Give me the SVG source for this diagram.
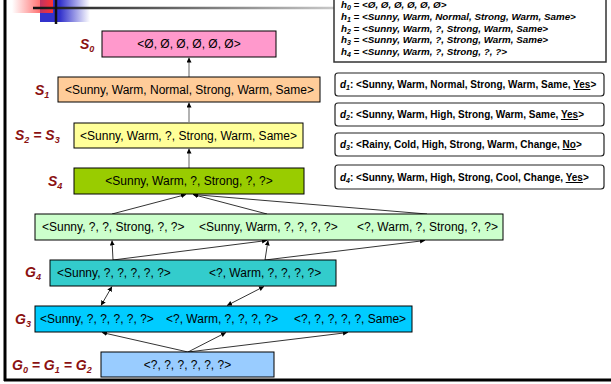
<svg xmlns="http://www.w3.org/2000/svg" width="611" height="384" viewBox="0 0 611 384">
  <defs>
    <linearGradient id="redFade" x1="0" y1="0" x2="1" y2="0">
      <stop offset="0" stop-color="#ff3333" stop-opacity="0"/>
      <stop offset="1" stop-color="#ff3333" stop-opacity="1"/>
    </linearGradient>
    <linearGradient id="blueFade" x1="0" y1="0" x2="1" y2="0">
      <stop offset="0" stop-color="#3333cc"/>
      <stop offset="0.4" stop-color="#3333cc"/>
      <stop offset="1" stop-color="#3333cc" stop-opacity="0"/>
    </linearGradient>
    <linearGradient id="ruleFade" x1="33" y1="0" x2="334" y2="0" gradientUnits="userSpaceOnUse">
      <stop offset="0" stop-color="#111"/>
      <stop offset="1" stop-color="#c8c8c8"/>
    </linearGradient>
    <marker id="tip" viewBox="0 0 10 10" refX="10" refY="5" markerWidth="5" markerHeight="5" markerUnits="userSpaceOnUse" orient="auto-start-reverse">
      <path d="M0,0 L10,5 L0,10 z" fill="#000"/>
    </marker>
  </defs>
  <style>
    .box { stroke: #000; stroke-width: 1; }
    .t { font-family: "Liberation Sans", Arial, sans-serif; font-size: 12px; fill: #000; }
    .lbl { font-family: "Liberation Sans", Arial, sans-serif; font-size: 14px; font-weight: bold; font-style: italic; fill: #8b1111; }
    .sub { font-size: 9px; }
    .h { font-family: "Liberation Sans", Arial, sans-serif; font-size: 9.8px; font-weight: bold; font-style: italic; fill: #000; }
    .h .sub { font-size: 7px; }
    .d { font-family: "Liberation Sans", Arial, sans-serif; font-size: 10px; font-weight: bold; fill: #000; }
    .d .sub { font-size: 7px; }
    .dbox { fill: #fff; stroke: #222; stroke-width: 1.2; }
    .gray { stroke: #999; stroke-width: 1.5; fill: none; }
    .thin { stroke: #000; stroke-width: 0.8; fill: none; }
  </style>

  <!-- corner ornament and frame -->
  <rect x="40" y="0" width="50" height="22" fill="url(#blueFade)"/>
  <rect x="12" y="0" width="41" height="13" fill="url(#redFade)"/>
  <line x1="33" y1="8" x2="334" y2="8" stroke="url(#ruleFade)" stroke-width="2.5"/>
  <line x1="56" y1="0" x2="56" y2="24" stroke="#111" stroke-width="2.5"/>
  <line x1="5" y1="0" x2="5" y2="381" stroke="#000" stroke-width="3"/>
  <line x1="4" y1="380" x2="611" y2="380" stroke="#000" stroke-width="3"/>

  <!-- hypothesis trace -->
  <g id="trace">
    <rect x="334" y="-5" width="272" height="67" fill="#fff" stroke="#333" stroke-width="1.5"/>
    <text class="h" x="341" y="8">h<tspan class="sub" dy="2">0</tspan><tspan dy="-2"> = &lt;Ø, Ø, Ø, Ø, Ø, Ø&gt;</tspan></text>
    <text class="h" x="341" y="20">h<tspan class="sub" dy="2">1</tspan><tspan dy="-2"> = &lt;Sunny, Warm, Normal, Strong, Warm, Same&gt;</tspan></text>
    <text class="h" x="341" y="31.5">h<tspan class="sub" dy="2">2</tspan><tspan dy="-2"> = &lt;Sunny, Warm, ?, Strong, Warm, Same&gt;</tspan></text>
    <text class="h" x="341" y="43">h<tspan class="sub" dy="2">3</tspan><tspan dy="-2"> = &lt;Sunny, Warm, ?, Strong, Warm, Same&gt;</tspan></text>
    <text class="h" x="341" y="54.5">h<tspan class="sub" dy="2">4</tspan><tspan dy="-2"> = &lt;Sunny, Warm, ?, Strong, ?, ?&gt;</tspan></text>
  </g>

  <!-- training examples -->
  <g id="d1">
    <rect class="dbox" x="335" y="73" width="269" height="23" rx="3"/>
    <text class="d" x="340" y="88"><tspan font-style="italic">d</tspan><tspan class="sub" font-style="italic" dy="2">1</tspan><tspan dy="-2">: &lt;Sunny, Warm, Normal, Strong, Warm, Same, </tspan><tspan text-decoration="underline">Yes</tspan>&gt;</text>
  </g>
  <g id="d2">
    <rect class="dbox" x="335" y="103" width="269" height="23" rx="3"/>
    <text class="d" x="340" y="118"><tspan font-style="italic">d</tspan><tspan class="sub" font-style="italic" dy="2">2</tspan><tspan dy="-2">: &lt;Sunny, Warm, High, Strong, Warm, Same, </tspan><tspan text-decoration="underline">Yes</tspan>&gt;</text>
  </g>
  <g id="d3">
    <rect class="dbox" x="335" y="133" width="269" height="23" rx="3"/>
    <text class="d" x="340" y="148"><tspan font-style="italic">d</tspan><tspan class="sub" font-style="italic" dy="2">3</tspan><tspan dy="-2">: &lt;Rainy, Cold, High, Strong, Warm, Change, </tspan><tspan text-decoration="underline">No</tspan>&gt;</text>
  </g>
  <g id="d4">
    <rect class="dbox" x="335" y="165" width="269" height="24" rx="3"/>
    <text class="d" x="340" y="181"><tspan font-style="italic">d</tspan><tspan class="sub" font-style="italic" dy="2">4</tspan><tspan dy="-2">: &lt;Sunny, Warm, High, Strong, Cool, Change, </tspan><tspan text-decoration="underline">Yes</tspan>&gt;</text>
  </g>

  <!-- connectors -->
  <g id="connectors">
    <line class="gray" x1="189" y1="77" x2="189" y2="57.5" marker-end="url(#tip)"/>
    <line class="gray" x1="189" y1="122" x2="189" y2="102.5" marker-end="url(#tip)"/>
    <line class="gray" x1="189" y1="168" x2="189" y2="148.5" marker-end="url(#tip)"/>

    <line class="thin" x1="112" y1="214" x2="186" y2="194.5" marker-end="url(#tip)"/>
    <line class="thin" x1="267" y1="214" x2="193" y2="194.5" marker-end="url(#tip)"/>
    <line class="thin" x1="427" y1="214" x2="193" y2="194.5" marker-end="url(#tip)"/>

    <line class="thin" x1="113" y1="260" x2="112" y2="240.5" marker-end="url(#tip)"/>
    <line class="thin" x1="113" y1="260" x2="267" y2="240.5" marker-end="url(#tip)"/>
    <line class="thin" x1="265" y1="260" x2="268" y2="240.5" marker-end="url(#tip)"/>
    <line class="thin" x1="265" y1="260" x2="425" y2="240.5" marker-end="url(#tip)"/>

    <line class="thin" x1="112" y1="286.5" x2="101" y2="305.5" marker-start="url(#tip)" marker-end="url(#tip)"/>
    <line class="thin" x1="264" y1="286.5" x2="227" y2="305.5" marker-start="url(#tip)" marker-end="url(#tip)"/>

    <line class="thin" x1="188" y1="352" x2="102" y2="332.5" marker-end="url(#tip)"/>
    <line class="thin" x1="188" y1="352" x2="226" y2="332.5" marker-end="url(#tip)"/>
    <line class="thin" x1="188" y1="352" x2="348" y2="332.5" marker-end="url(#tip)"/>
  </g>

  <!-- specific boundary -->
  <g id="S0">
    <rect class="box" x="102" y="31" width="174" height="26" fill="#ff99cc"/>
    <text class="t" x="189" y="48" text-anchor="middle">&lt;Ø, Ø, Ø, Ø, Ø, Ø&gt;</text>
    <text class="lbl" x="80" y="49">S<tspan class="sub" dy="3">0</tspan></text>
  </g>
  <g id="S1">
    <rect class="box" x="58" y="77" width="262" height="25" fill="#ffcc99"/>
    <text class="t" x="65" y="94">&lt;Sunny, Warm, Normal, Strong, Warm, Same&gt;</text>
    <text class="lbl" x="35" y="95">S<tspan class="sub" dy="3">1</tspan></text>
  </g>
  <g id="S2S3">
    <rect class="box" x="74" y="123" width="229" height="25" fill="#ffff99"/>
    <text class="t" x="188.5" y="140" text-anchor="middle">&lt;Sunny, Warm, ?, Strong, Warm, Same&gt;</text>
    <text class="lbl" x="15" y="140">S<tspan class="sub" dy="3">2</tspan><tspan dy="-3"> = S</tspan><tspan class="sub" dy="3">3</tspan></text>
  </g>
  <g id="S4">
    <rect class="box" x="74" y="168" width="230" height="26" fill="#99cc00"/>
    <text class="t" x="189" y="185" text-anchor="middle">&lt;Sunny, Warm, ?, Strong, ?, ?&gt;</text>
    <text class="lbl" x="48" y="186">S<tspan class="sub" dy="3">4</tspan></text>
  </g>

  <!-- intermediate hypotheses -->
  <g id="middle">
    <rect class="box" x="35" y="214" width="468" height="26" fill="#ccffcc"/>
    <text class="t" x="42" y="231">&lt;Sunny, ?, ?, Strong, ?, ?&gt;</text>
    <text class="t" x="199" y="231">&lt;Sunny, Warm, ?, ?, ?, ?&gt;</text>
    <text class="t" x="357" y="231">&lt;?, Warm, ?, Strong, ?, ?&gt;</text>
  </g>

  <!-- general boundary -->
  <g id="G4">
    <rect class="box" x="50" y="260" width="286" height="26" fill="#33cccc"/>
    <text class="t" x="57" y="277">&lt;Sunny, ?, ?, ?, ?, ?&gt;</text>
    <text class="t" x="209" y="277">&lt;?, Warm, ?, ?, ?, ?&gt;</text>
    <text class="lbl" x="25" y="277">G<tspan class="sub" dy="3">4</tspan></text>
  </g>
  <g id="G3">
    <rect class="box" x="35" y="306" width="377" height="26" fill="#00ccff"/>
    <text class="t" x="40" y="323">&lt;Sunny, ?, ?, ?, ?, ?&gt;</text>
    <text class="t" x="166" y="323">&lt;?, Warm, ?, ?, ?, ?&gt;</text>
    <text class="t" x="294" y="323">&lt;?, ?, ?, ?, ?, Same&gt;</text>
    <text class="lbl" x="15" y="324">G<tspan class="sub" dy="3">3</tspan></text>
  </g>
  <g id="G0G1G2">
    <rect class="box" x="101" y="352" width="173" height="25" fill="#99ccff"/>
    <text class="t" x="187.5" y="369" text-anchor="middle">&lt;?, ?, ?, ?, ?, ?&gt;</text>
    <text class="lbl" x="12" y="370">G<tspan class="sub" dy="3">0</tspan><tspan dy="-3"> = G</tspan><tspan class="sub" dy="3">1</tspan><tspan dy="-3"> = G</tspan><tspan class="sub" dy="3">2</tspan></text>
  </g>
</svg>
